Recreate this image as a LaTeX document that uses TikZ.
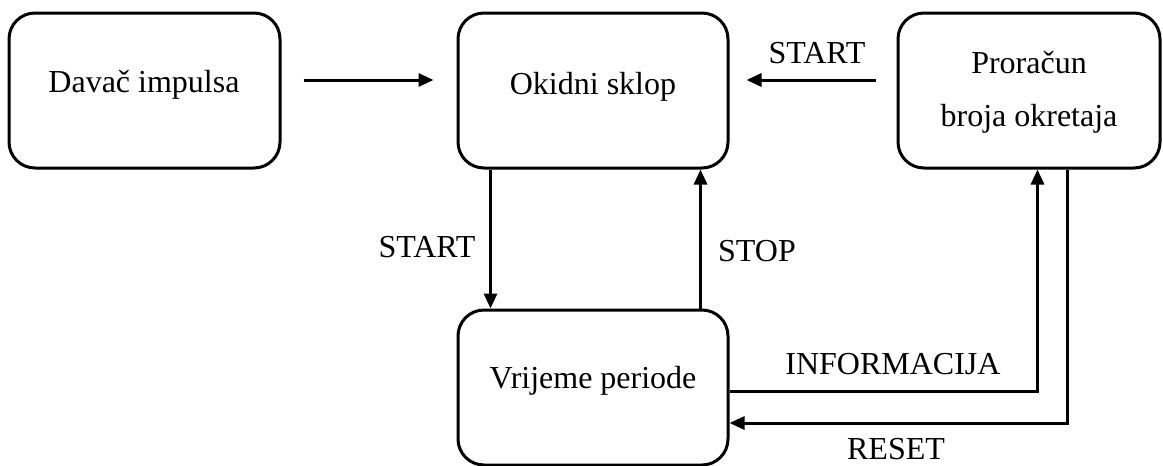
\documentclass[tikz,border=0pt]{standalone}
\usepackage{fontspec}
\setmainfont{Liberation Serif}
\usetikzlibrary{arrows.meta,calc}
\begin{document}
\begin{tikzpicture}[x=1pt,y=-1pt,
  blk/.style={draw,line width=3pt,rounded corners=26pt,inner sep=0pt},
  txt/.style={font=\fontsize{32}{53}\selectfont,inner sep=0pt,align=center},
  arr/.style={line width=3pt,-{Triangle[length=15pt,width=13pt]}},
  lbl/.style={font=\fontsize{32}{38}\selectfont,inner sep=0pt}]
\useasboundingbox (0,0) rectangle (1163,466);
% boxes
\node[blk,minimum width=271pt,minimum height=155pt] (d) at (144.5,90.5) {};
\node[blk,minimum width=270pt,minimum height=155pt] (o) at (593,90.5) {};
\node[blk,minimum width=262pt,minimum height=155pt] (p) at (1029,90.5) {};
\node[blk,minimum width=270pt,minimum height=155pt] (v) at (593,387.5) {};
% texts
\node[txt] (dt) at (144,85) {Davač impulsa};
\node[txt] (ot) at (593,87) {Okidni sklop};
\node[txt] (pt) at (1029,92) {Proračun\\broja okretaja};
\node[txt] (vt) at (593,381) {Vrijeme periode};
% connectors
\draw[arr] ([xshift=22pt,yshift=10.5pt]d.east) -- ([xshift=-23pt,yshift=10.5pt]o.west);
\draw[arr] ([xshift=-21pt,yshift=10.5pt]p.west) -- ([xshift=17pt,yshift=10.5pt]o.east);
\draw[arr] ([xshift=34pt]o.south west) -- ([xshift=34pt]v.north west);
\draw[arr] ([xshift=-29pt]v.north east) -- ([xshift=-29pt]o.south east);
\coordinate (i1) at ([xshift=141pt]p.south west);
\coordinate (r1) at ([xshift=171pt]p.south west);
\draw[arr] ([yshift=-3.5pt]v.east) -| (i1);
\draw[arr] (r1) |- ([yshift=-35.5pt]v.east);
% labels
\node[lbl] (l1) at (817,53) {START};
\node[lbl] (l2) at (427,247) {START};
\node[lbl] (l3) at (757,251) {STOP};
\node[lbl] (l4) at (893,364) {INFORMACIJA};
\node[lbl] (l5) at (896,449) {RESET};
\end{tikzpicture}
\end{document}
